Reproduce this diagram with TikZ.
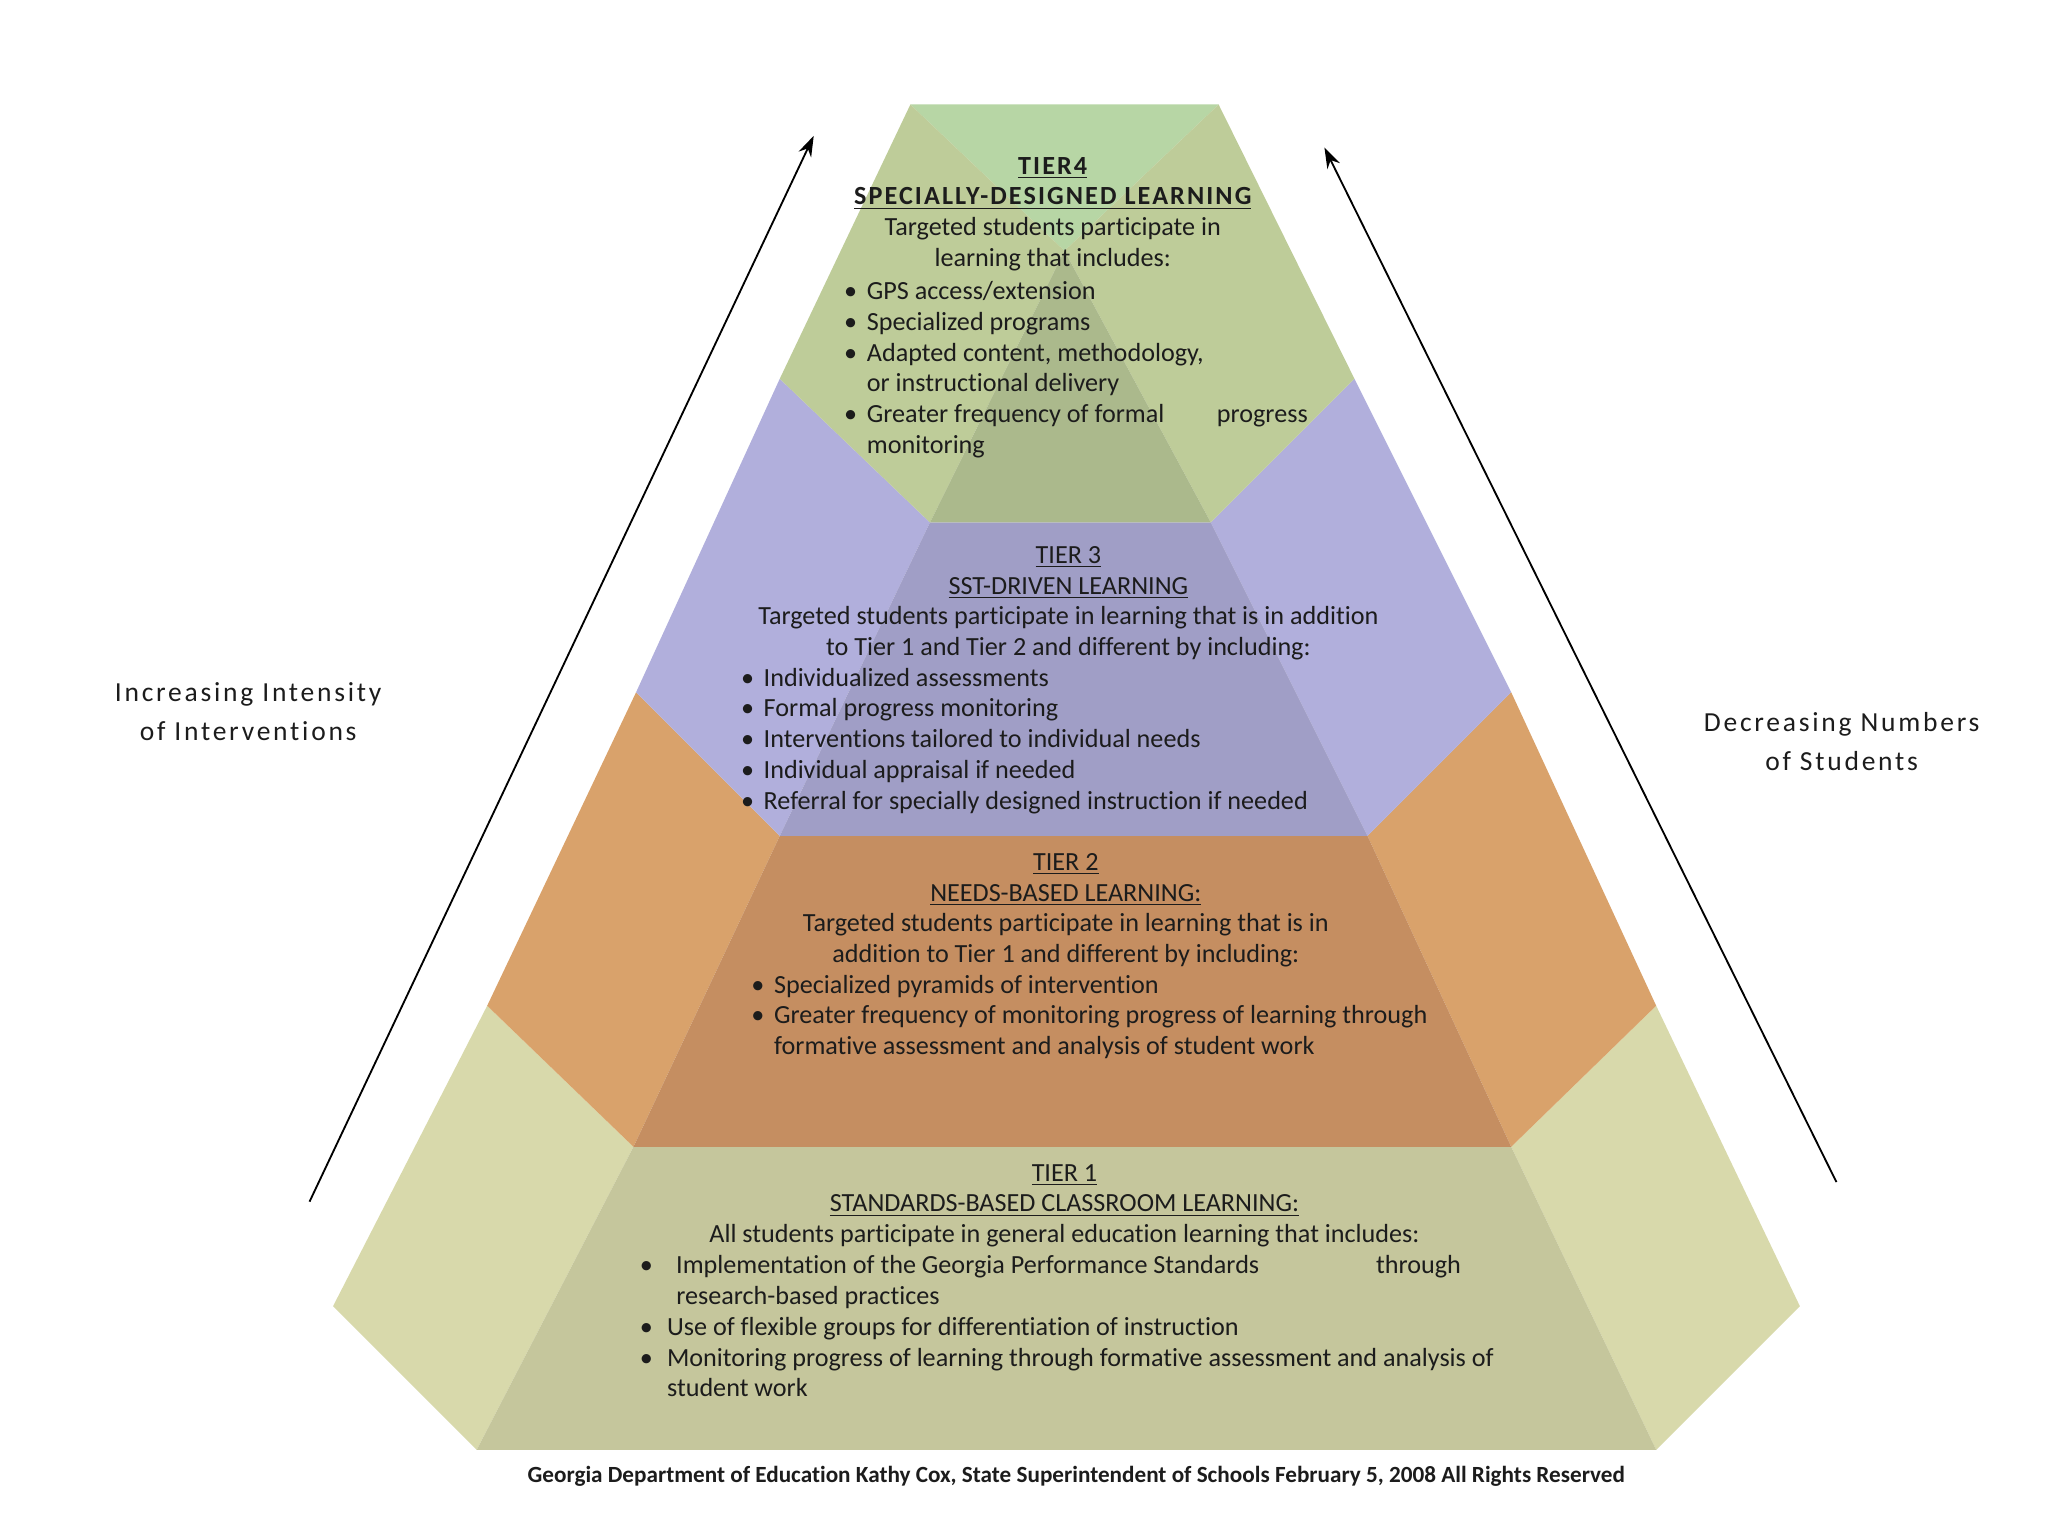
\documentclass[tikz,border=0pt]{standalone}
\usepackage{fontspec}
\setmainfont{Carlito}[Ligatures=NoCommon]
\usepackage{tikz}
\usetikzlibrary{arrows.meta}

\definecolor{ink}{RGB}{28,28,28}
\definecolor{tfourtop}{RGB}{183,214,165}
\definecolor{tfourside}{RGB}{190,204,153}
\definecolor{tfourfront}{RGB}{171,185,140}
\definecolor{tthreeside}{RGB}{177,175,220}
\definecolor{tthreefront}{RGB}{160,158,198}
\definecolor{ttwoside}{RGB}{217,162,107}
\definecolor{ttwofront}{RGB}{197,142,97}
\definecolor{toneside}{RGB}{216,217,171}
\definecolor{tonefront}{RGB}{197,198,156}

\begin{document}
\begin{tikzpicture}[>={Stealth[length=9pt,width=6pt]}, x=0.02cm, y=-0.02cm,
    body/.style={font=\fontsize{11.4}{13.4}\selectfont, text=ink, inner sep=0pt, anchor=north west},
    head/.style={body, anchor=north},
    side/.style={font=\fontsize{12}{17}\selectfont\addfontfeature{LetterSpace=10}, text=ink, align=center, inner sep=0pt}]
    \useasboundingbox (0,0) rectangle (1568,1176);

    % Ecken aussen (links / rechts)
    \coordinate (p0) at (697,80);   \coordinate (r0) at (933,80);
    \coordinate (p1) at (597,290);  \coordinate (r1) at (1037,290);
    \coordinate (p2) at (487,530);  \coordinate (r2) at (1157,530);
    \coordinate (p3) at (373,770);  \coordinate (r3) at (1268,770);
    \coordinate (p4) at (255,1000); \coordinate (r4) at (1378,1000);
    % Ecken innen
    \coordinate (apex) at (815,192);
    \coordinate (q3) at (712,400);  \coordinate (s3) at (927,400);
    \coordinate (q2) at (597,640);  \coordinate (s2) at (1047,640);
    \coordinate (q1) at (485,878);  \coordinate (s1) at (1157,878);
    \coordinate (q0) at (365,1110); \coordinate (s0) at (1268,1110);

    % Stufe 1
    \fill[toneside] (p3) -- (p4) -- (q0) -- (q1) -- cycle;
    \fill[toneside] (r3) -- (r4) -- (s0) -- (s1) -- cycle;
    \fill[tonefront] (q1) -- (s1) -- (s0) -- (q0) -- cycle;
    % Stufe 2
    \fill[ttwoside] (p2) -- (p3) -- (q1) -- (q2) -- cycle;
    \fill[ttwoside] (r2) -- (r3) -- (s1) -- (s2) -- cycle;
    \fill[ttwofront] (q2) -- (s2) -- (s1) -- (q1) -- cycle;
    % Stufe 3
    \fill[tthreeside] (p1) -- (p2) -- (q2) -- (q3) -- cycle;
    \fill[tthreeside] (r1) -- (r2) -- (s2) -- (s3) -- cycle;
    \fill[tthreefront] (q3) -- (s3) -- (s2) -- (q2) -- cycle;
    % Stufe 4
    \fill[tfourtop] (p0) -- (r0) -- (apex) -- cycle;
    \fill[tfourside] (p0) -- (p1) -- (q3) -- (apex) -- cycle;
    \fill[tfourside] (r0) -- (r1) -- (s3) -- (apex) -- cycle;
    \fill[tfourfront] (apex) -- (s3) -- (q3) -- cycle;

    % Texte Stufe 4
    \node[head] (tfourhead) at (806,116.5) {\begin{tabular}{@{}c@{}}
        {\bfseries\addfontfeature{LetterSpace=8}\underline{TIER4}}\\
        {\bfseries\addfontfeature{LetterSpace=8}\underline{SPECIALLY-DESIGNED LEARNING}}\\
        Targeted students participate in\\
        learning that includes:
    \end{tabular}};
    \node[body] (tfourlist) at (646,212.5) {\begin{tabular}{@{}l@{\hspace{4.2pt}}l@{}}
        \textbullet & GPS access/extension\\
        \textbullet & Specialized programs\\
        \textbullet & Adapted content, methodology,\\
                    & or instructional delivery\\
        \textbullet & \makebox[5.36cm][l]{Greater frequency of formal}progress\\
                    & monitoring
    \end{tabular}};

    % Texte Stufe 3
    \node[head] (tthreehead) at (818,414.5) {\begin{tabular}{@{}c@{}}
        \underline{TIER 3}\\
        \underline{SST-DRIVEN LEARNING}\\
        Targeted students participate in learning that is in addition\\
        to Tier 1 and Tier 2 and different by including:
    \end{tabular}};
    \node[body] (tthreelist) at (567,508.5) {\begin{tabular}{@{}l@{\hspace{4.2pt}}l@{}}
        \textbullet & Individualized assessments\\
        \textbullet & Formal progress monitoring\\
        \textbullet & Interventions tailored to individual needs\\
        \textbullet & Individual appraisal if needed\\
        \textbullet & Referral for specially designed instruction if needed
    \end{tabular}};

    % Texte Stufe 2
    \node[head] (ttwohead) at (816,649.5) {\begin{tabular}{@{}c@{}}
        \underline{TIER 2}\\
        \underline{NEEDS-BASED LEARNING:}\\
        Targeted students participate in learning that is in\\
        addition to Tier 1 and different by including:
    \end{tabular}};
    \node[body] (ttwolist) at (575,743.5) {\begin{tabular}{@{}l@{\hspace{4.2pt}}l@{}}
        \textbullet & Specialized pyramids of intervention\\
        \textbullet & Greater frequency of monitoring progress of learning through\\
                    & formative assessment and analysis of student work
    \end{tabular}};

    % Texte Stufe 1
    \node[head] (tonehead) at (815,887.5) {\begin{tabular}{@{}c@{}}
        \underline{TIER 1}\\
        \underline{STANDARDS-BASED CLASSROOM LEARNING:}\\
        All students participate in general education learning that includes:
    \end{tabular}};
    \node[body] (tonelist) at (489.5,958.5) {\begin{tabular}{@{}l@{\hspace{6.2pt}}l@{}}
        \textbullet & \hspace{4pt}\makebox[10.72cm][l]{Implementation of the Georgia Performance Standards}through\\
                    & \hspace{4pt}research-based practices\\
        \textbullet & Use of flexible groups for differentiation of instruction\\
        \textbullet & Monitoring progress of learning through formative assessment and analysis of\\
                    & student work
    \end{tabular}};

    % Pfeile
    \coordinate (lfoot) at (237,920);  \coordinate (ltip) at (623,104);
    \coordinate (rfoot) at (1406,905); \coordinate (rtip) at (1014,113);
    \draw[->, line width=0.8pt] (lfoot) -- (ltip);
    \draw[->, line width=0.8pt] (rfoot) -- (rtip);

    % Beschriftungen
    \node[side] (intensity) at (190,545) {Increasing Intensity\\of Interventions};
    \node[side] (numbers) at (1410,568) {Decreasing Numbers\\of Students};
    \node[font=\fontsize{10.1}{11}\selectfont\bfseries, text=ink, inner sep=0pt] (credit) at (824,1130)
        {Georgia Department of Education Kathy Cox, State Superintendent of Schools February 5, 2008 All Rights Reserved};
\end{tikzpicture}
\end{document}
